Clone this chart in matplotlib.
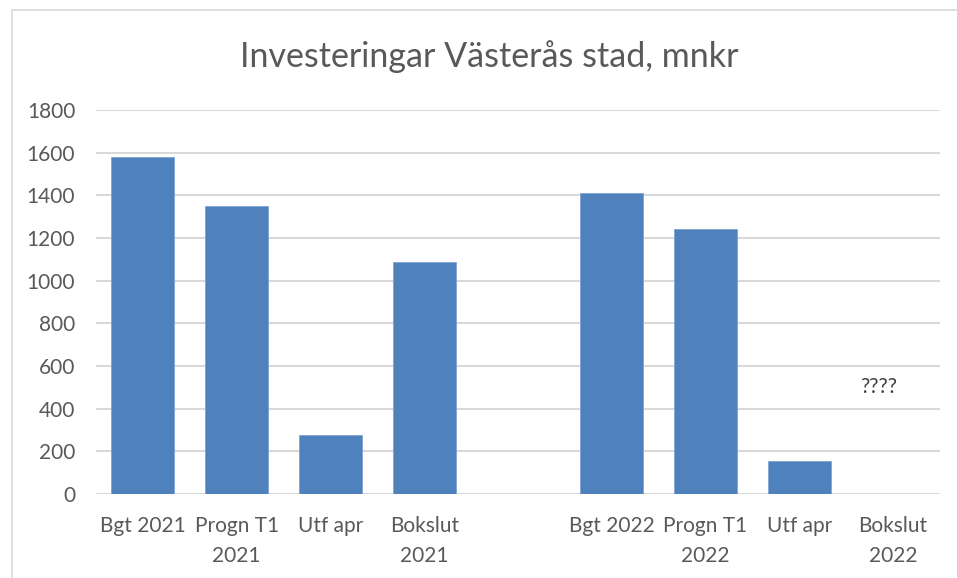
import matplotlib.pyplot as plt
from matplotlib.patches import Rectangle

# ===================== DATA =====================
categories = ['Bgt 2021', 'Progn T1\n2021', 'Utf apr', 'Bokslut\n2021', '',
              'Bgt 2022', 'Progn T1\n2022', 'Utf apr', 'Bokslut\n2022']
values = [1580, 1350, 278, 1087, 0, 1410, 1240, 157, 0]
yticks = [0, 200, 400, 600, 800, 1000, 1200, 1400, 1600, 1800]

TEXT = '#595959'
BAR = '#4f81bd'
GRID = '#d9d9d9'

plt.rcParams['font.family'] = ['Lato', 'DejaVu Sans']

fig = plt.figure(figsize=(9.57, 5.78), dpi=100)

# ram runt diagramytan
fig.patches.append(Rectangle((12 / 957, -0.1), 1.1, 1 - 10 / 578 + 0.1,
                             transform=fig.transFigure, fill=False,
                             edgecolor='#d9d9d9', lw=1.2))

ax = fig.add_axes([96 / 957, 1 - 494 / 578, (940 - 96) / 957, (494 - 110) / 578])
x = list(range(len(categories)))
ax.bar(x, values, width=0.67, color=BAR, edgecolor='#7ea3d3', lw=0.6, zorder=3)

ax.set_xlim(-0.5, len(categories) - 0.5)
ax.set_ylim(0, 1800)
ax.set_yticks(yticks)
ax.set_xticks(x)
ax.set_xticklabels(categories, linespacing=1.6)
ax.tick_params(axis='both', length=0, labelsize=15, colors=TEXT)
ax.tick_params(axis='y', pad=15)
ax.tick_params(axis='x', pad=16)
ax.grid(axis='y', color=GRID, lw=1.5, zorder=0)
for s in ax.spines.values():
    s.set_visible(False)

ax.text(7.85, 500, '????', ha='center', va='center', fontsize=15, color='#404040')

fig.text(489 / 957, 1 - 57 / 578, 'Investeringar Västerås stad, mnkr',
         ha='center', va='center', fontsize=24.5, color=TEXT)

fig.savefig('out.png', dpi=100)
